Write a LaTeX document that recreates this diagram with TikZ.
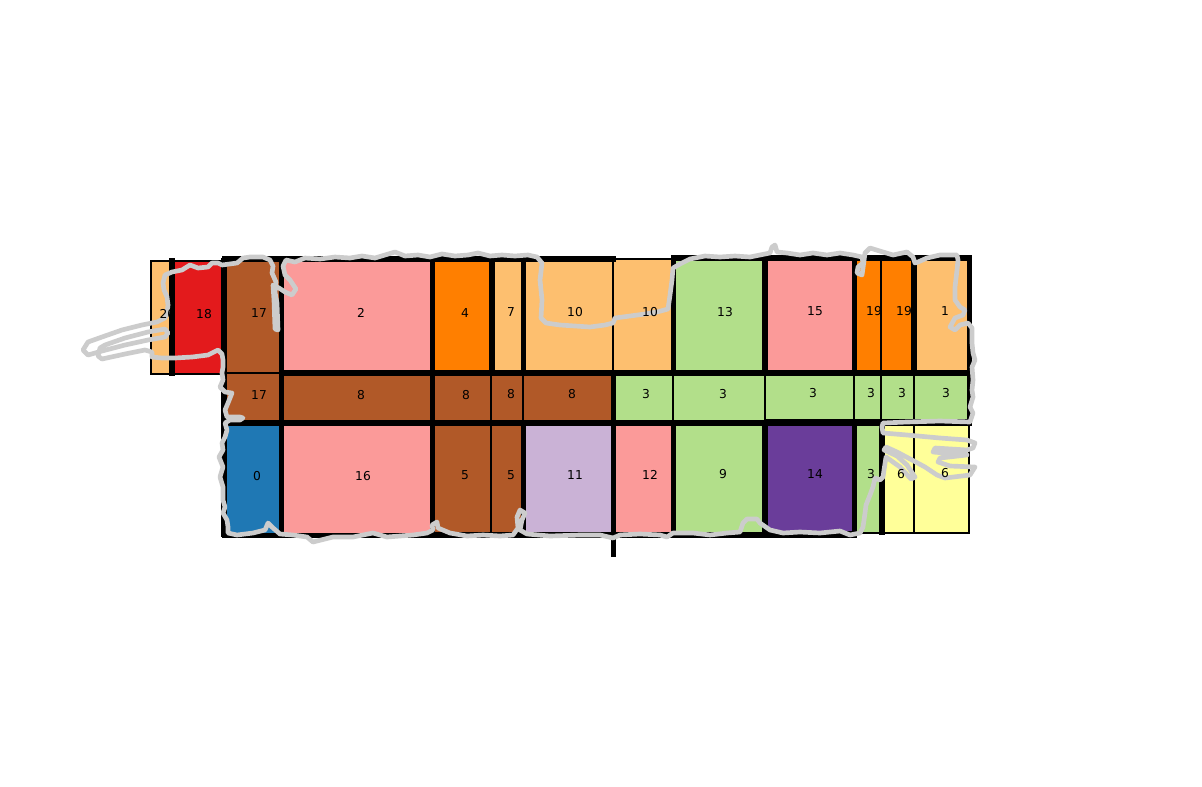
\documentclass[tikz,border=0pt]{standalone}
\usepackage{fontspec}
\setmainfont{DejaVu Sans}
\definecolor{lorange}{HTML}{FDBF6F}
\definecolor{mred}{HTML}{E31A1C}
\definecolor{mbrown}{HTML}{B15928}
\definecolor{mpink}{HTML}{FB9A99}
\definecolor{morange}{HTML}{FF7F00}
\definecolor{lgreen}{HTML}{B2DF8A}
\definecolor{mblue}{HTML}{1F78B4}
\definecolor{lpurple}{HTML}{CAB2D6}
\definecolor{dpurple}{HTML}{6A3D9A}
\definecolor{lyellow}{HTML}{FFFF99}
\definecolor{coastgrey}{HTML}{CCCCCC}
\pgfdeclarelayer{labels}
\pgfsetlayers{main,labels}
\tikzset{
  cellbox/.style={draw=black, line width=0.8pt},
  lab/.style={font=\fontsize{9.2}{11}\selectfont, inner sep=0pt, text=black},
  plotline/.style={draw=black, line width=3.9pt},
  coast/.style={draw=coastgrey, line width=3.5pt, line join=round, line cap=round}
}
\newcommand{\parcel}[9]{%
  \filldraw[cellbox, fill=#6] (#2,#3) rectangle (#4,#5);
  \begin{pgfonlayer}{labels}\node[lab] (#1) at (#7,#8) {#9};\end{pgfonlayer}}
\begin{document}
\begin{tikzpicture}[x=0.75pt,y=-0.75pt]
\useasboundingbox (0,0) rectangle (1202,786);
\fill[white] (0,0) rectangle (1202,786);
% parcels
\parcel{c20}{151}{261}{172}{374}{lorange}{167.5}{314}{20}
\parcel{c18}{172}{261}{224}{374}{mred}{204}{314}{18}
\parcel{c17a}{224}{261}{281}{373}{mbrown}{259}{313}{17}
\parcel{c17b}{224}{373}{281}{423}{mbrown}{259}{395}{17}
\parcel{c0}{224}{423}{281}{534}{mblue}{257}{476}{0}
\parcel{c2}{282}{261}{432}{373}{mpink}{361}{313}{2}
\parcel{c8a}{282}{374}{432}{423}{mbrown}{361}{395}{8}
\parcel{c16}{282}{424}{432}{534}{mpink}{363}{476}{16}
\parcel{c4}{432}{261}{491}{373}{morange}{465}{313}{4}
\parcel{c8b}{432}{374}{491}{422}{mbrown}{466}{395}{8}
\parcel{c5a}{432}{425}{491}{533}{mbrown}{465}{475}{5}
\parcel{c7}{491}{261}{523}{373}{lorange}{511}{312}{7}
\parcel{c8c}{491}{374}{523}{422}{mbrown}{511}{394}{8}
\parcel{c5b}{491}{425}{523}{533}{mbrown}{511}{475}{5}
\parcel{c10a}{523}{259}{613}{372}{lorange}{575}{312}{10}
\parcel{c8d}{523}{374}{613}{422}{mbrown}{572}{394}{8}
\parcel{c11}{523}{424}{613}{533}{lpurple}{575}{475}{11}
\parcel{c10b}{613}{259}{673}{372}{lorange}{650}{312}{10}
\parcel{c3a}{613}{374}{673}{421}{lgreen}{646}{394}{3}
\parcel{c12}{613}{424}{673}{533}{mpink}{650}{475}{12}
\parcel{c13}{673}{259}{765}{372}{lgreen}{725}{312}{13}
\parcel{c3b}{673}{374}{765}{421}{lgreen}{723}{394}{3}
\parcel{c9}{673}{424}{765}{533}{lgreen}{723}{474}{9}
\parcel{c15}{765}{259}{854}{371}{mpink}{815}{311}{15}
\parcel{c3c}{765}{374}{854}{420}{lgreen}{813}{393}{3}
\parcel{c14}{765}{424}{854}{532}{dpurple}{815}{474}{14}
\parcel{c19a}{854}{259}{881}{371}{morange}{874}{311}{19}
\parcel{c3d}{854}{374}{881}{420}{lgreen}{871}{393}{3}
\parcel{c3e}{854}{424}{881}{533}{lgreen}{871}{474}{3}
\parcel{c19b}{881}{259}{914}{371}{morange}{904}{311}{19}
\parcel{c3f}{881}{374}{914}{420}{lgreen}{902}{393}{3}
\parcel{c6a}{881}{424}{914}{533}{lyellow}{901}{474}{6}
\parcel{c1}{914}{259}{969}{371}{lorange}{945}{311}{1}
\parcel{c3g}{914}{374}{969}{420}{lgreen}{946}{393}{3}
\parcel{c6b}{914}{424}{969}{533}{lyellow}{945}{473}{6}
% thick plot boundaries
\draw[plotline] (172,258) -- (172,376);
\draw[plotline] (224,258) -- (224,537);
\draw[plotline] (281.5,258) -- (281.5,537);
\draw[plotline] (432.5,258) -- (432.5,537);
\draw[plotline] (492,258) -- (492,373);
\draw[plotline] (523.5,258) -- (523.5,373);
\draw[plotline] (523.5,423) -- (523.5,537);
\draw[plotline] (613.5,373) -- (613.5,557);
\draw[plotline] (673.5,258) -- (673.5,373);
\draw[plotline] (673.5,423) -- (673.5,537);
\draw[plotline] (765,258) -- (765,373);
\draw[plotline] (765,423) -- (765,537);
\draw[plotline] (854.5,258) -- (854.5,373);
\draw[plotline] (854.5,423) -- (854.5,537);
\draw[plotline] (882,423) -- (882,535);
\draw[plotline] (914,258) -- (914,373);
\draw[plotline] (969.5,256) -- (969.5,425);
\draw[plotline] (222,259) -- (616,259);
\draw[plotline] (671,258) -- (972,258);
\draw[plotline] (280,373) -- (972,373);
\draw[plotline] (222,423) -- (972,423);
\draw[plotline] (222,535.5) -- (857,535.5);
% coastline
\draw[coast] (222,265) -- (237,263) -- (243,258) -- (250,257) -- (263,257) -- (270,260) -- (273,266) -- (272,273) -- (276,282) -- (275,292) -- (277,303) -- (278,330) -- (275,329) -- (274,300) -- (273,285) -- (279,288) -- (285,292) -- (292,295) -- (296,289) -- (290,280) -- (285,275) -- (283,266) -- (286,260) -- (295,262) -- (305,258) -- (320,259) -- (335,257) -- (350,258) -- (362,256) -- (375,258) -- (385,255) -- (395,252) -- (405,256) -- (418,255) -- (430,257) -- (442,254) -- (455,256) -- (468,255) -- (478,253) -- (490,256) -- (502,255) -- (515,256) -- (528,255) -- (537,257) -- (542,263) -- (540,280) -- (542,300) -- (541,318) -- (546,323) -- (560,325) -- (575,326) -- (590,327) -- (605,325) -- (613,323) -- (615,318) -- (630,316) -- (645,314) -- (657,312) -- (668,309) -- (670,295) -- (672,280) -- (673,268) -- (680,264) -- (690,259) -- (705,256) -- (720,257) -- (735,256) -- (750,257) -- (760,255) -- (770,253) -- (772,247) -- (775,245) -- (777,252) -- (787,253) -- (800,255) -- (813,253) -- (827,255) -- (840,253) -- (853,255) -- (862,257) -- (863,263) -- (858,267) -- (857,273) -- (862,275) -- (863,268) -- (865,253) -- (870,248) -- (883,252) -- (893,255) -- (907,252) -- (913,257) -- (915,263) -- (918,262) -- (927,258) -- (940,255) -- (957,255) -- (958,260) -- (957,270) -- (955,287) -- (955,300) -- (960,307) -- (965,310) -- (963,315) -- (955,318) -- (950,327) -- (955,330) -- (960,325) -- (968,323) -- (972,328) -- (972,343) -- (973,353) -- (975,360) -- (972,367) -- (973,380) -- (972,390) -- (973,397) -- (970,407) -- (973,413) -- (970,422) -- (940,421) -- (907,422) -- (883,423) -- (882,427) -- (883,433) -- (907,435) -- (940,438) -- (967,440) -- (975,443) -- (973,448) -- (967,450) -- (935,448) -- (933,452) -- (967,455) -- (940,458) -- (938,462) -- (950,466) -- (975,467) -- (970,475) -- (945,478) -- (937,475) -- (925,467) -- (912,460) -- (897,452) -- (886,447) -- (884,450) -- (897,456) -- (907,465) -- (915,477) -- (911,479) -- (900,467) -- (886,457) -- (884,470) -- (883,477) -- (880,480) -- (875,478) -- (873,487) -- (870,495) -- (866,505) -- (865,513) -- (863,527) -- (860,533) -- (850,535) -- (840,531) -- (820,533) -- (800,532) -- (783,533) -- (770,530) -- (760,523) -- (757,519) -- (747,519) -- (743,523) -- (740,532) -- (727,533) -- (710,535) -- (693,533) -- (673,533) -- (667,537) -- (660,535) -- (640,534) -- (620,535) -- (613,538) -- (600,535) -- (580,535) -- (550,536) -- (527,534) -- (520,530) -- (522,520) -- (525,513) -- (520,510) -- (517,517) -- (518,528) -- (513,535) -- (500,536) -- (483,535) -- (467,536) -- (450,533) -- (438,528) -- (437,522) -- (432,525) -- (433,530) -- (427,533) -- (413,535) -- (400,536) -- (387,537) -- (373,533) -- (353,537) -- (333,537) -- (313,542) -- (307,537) -- (293,535) -- (280,534) -- (272,527) -- (268,523) -- (265,530) -- (253,533) -- (237,535) -- (228,533) -- (228,527) -- (227,520) -- (223,513) -- (225,507) -- (223,500) -- (223,487) -- (220,477) -- (223,467) -- (219,457) -- (223,450) -- (222,443) -- (225,437) -- (227,430) -- (225,423) -- (230,420) -- (240,420) -- (243,418) -- (240,417) -- (227,417) -- (225,410) -- (228,403) -- (232,393) -- (225,392) -- (220,387) -- (223,380) -- (222,373) -- (223,367) -- (223,360) -- (222,354) -- (218,350) -- (208,355) -- (192,357) -- (175,358) -- (162,358) -- (152,357) -- (152,352) -- (145,350) -- (125,354) -- (102,359) -- (98,356) -- (100,348) -- (105,345) -- (125,338) -- (148,332) -- (165,329) -- (168,333) -- (165,337) -- (148,340) -- (125,345) -- (102,351) -- (88,355) -- (83,350) -- (88,342) -- (102,337) -- (122,330) -- (142,325) -- (157,322) -- (165,318) -- (167,313) -- (168,305) -- (167,297) -- (164,290) -- (163,283) -- (165,275) -- (172,272) -- (182,270) -- (190,265) -- (198,268) -- (208,267) -- (212,263) -- (218,263) -- cycle;
\end{tikzpicture}
\end{document}
